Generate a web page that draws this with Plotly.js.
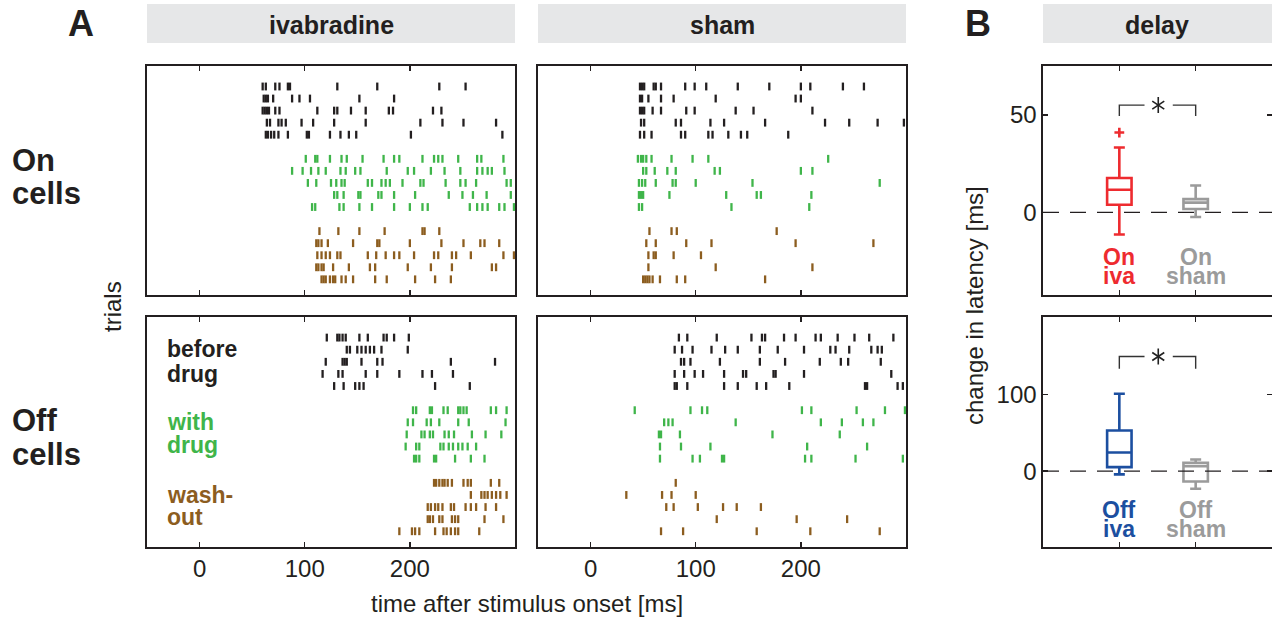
<!DOCTYPE html>
<html><head><meta charset="utf-8">
<script src="https://cdn.plot.ly/plotly-3.0.1.min.js"></script>
<style>html,body{margin:0;padding:0;background:#fff;} #chart{width:1272px;height:619px;}</style>
</head><body><div id="chart"></div>
<script>
// ---------------- DATA (spike times in ms, one sub-array per trial) ----------------
const onIvaBefore = [
 [60,63,72,76,84,86,131,169,228,253],
 [61,63,65,70,88,95,105,152,185],
 [60,62,64,66,72,76,112,128,131,144,158,180,184,222,230],
 [64,67,75,78,82,97,108,128,158,210,231,251,282],
 [63,65,68,71,75,84,102,104,124,134,142,149,201,288]
];
const onIvaDrug = [
 [101,110,112,124,135,140,155,175,185,190,212,223,227,231,246,264,268,289],
 [88,98,106,113,120,134,139,148,153,178,198,204,220,233,248,264,269,274,278,290],
 [103,111,125,130,135,138,160,164,173,177,181,193,210,213,234,248,253,263,292,296],
 [128,131,137,151,153,170,173,185,205,237,250,260,273,296],
 [107,110,133,137,152,164,185,200,212,217,257,264,269,274,285,290,299]
];
const onIvaWash = [
 [114,132,152,176,212,214,228],
 [111,113,116,122,146,169,171,200,230,251,267,271,285],
 [112,116,120,124,131,134,160,168,177,185,190,204,223,227,240,244,258,289,299],
 [111,113,116,118,127,142,162,167,198,220,240,278,282],
 [116,118,120,124,127,129,135,139,146,167,178,205,224,239]
];
const onShamBefore = [
 [47,49,51,60,62,67,90,99,110,140,170,200,209,240,260],
 [47,49,55,67,79,119,195,200],
 [47,49,51,59,67,91,99,138,155,211],
 [48,51,81,86,114,127,166,223,246,273,298],
 [47,51,58,86,90,112,116,131,143,149,188]
];
const onShamDrug = [
 [45,48,50,53,58,77,97,112,226],
 [50,53,61,73,81,118,123,200,211],
 [46,49,52,62,78,81,100,154,275],
 [46,48,50,75,129,158,162,210],
 [46,49,134,208]
];
const onShamWash = [
 [56,77,82,177],
 [53,62,91,115,195,269],
 [55,60,62,79,105],
 [55,119,211],
 [50,52,54,56,59,66,82,90,166]
];
const offIvaBefore = [
 [121,131,133,136,139,152,160,175,178,185,199],
 [140,143,150,154,158,162,166,173,198],
 [120,136,138,140,154,169,174,239,281],
 [117,132,136,158,169,190,212,221,241],
 [128,137,148,152,156,224,257]
];
const offIvaDrug = [
 [203,206,219,221,232,236,246,248,251,254,277,282,292],
 [198,203,216,220,228,246,256,291],
 [197,211,214,219,222,233,237,242,259,272,287],
 [196,206,209,229,232,237,241,246,250,255,263],
 [204,206,209,223,225,243,258,271]
];
const offIvaWash = [
 [223,225,228,231,233,236,240,251,255,258,277,285],
 [258,268,271,274,278,282,286,292],
 [217,220,224,227,231,239,242,253,258,263,272,282],
 [217,219,222,228,231,240,243,246,271,289],
 [190,202,205,209,224,232,235,239,243,246,266]
];
const offShamBefore = [
 [84,92,120,153,163,166,184,195,214,219,235,251,265,288],
 [80,87,97,115,128,140,161,178,203,228,233,246,267,273,277],
 [86,89,95,123,161,185,218,238,245,276],
 [80,89,99,107,127,145,148,174,176,203,286],
 [80,82,92,127,140,158,167,189,261,263,292,297]
];
const offShamDrug = [
 [42,95,106,111,201,210,253,280,299],
 [70,74,78,138,219,239,259,269],
 [65,67,85,173,237],
 [66,86,114,206,263],
 [66,97,104,125,127,204,210,252,297]
];
const offShamWash = [
 [81],
 [34,68,77,100],
 [72,79,102,126,139,162],
 [120,196,244],
 [67,88,158,209,275]
];

// trial row numbers for each condition
const rowsBefore = [1,2,3,4,5];
const rowsDrug = [7,8,9,10,11];
const rowsWash = [13,14,15,16,17];

// box plot statistics (change in latency, ms)
const boxPos = [1, 2];
const onLower  = [-11.4, -2.4];
const onQ1     = [3.9, 1.7];
const onMedian = [11.6, 5.0];
const onQ3     = [17.6, 6.8];
const onUpper  = [33.3, 13.8];
const onOutlier = [41];
const offLower  = [-4.3, -23];
const offQ1     = [5.2, -13.5];
const offMedian = [24.3, 6.5];
const offQ3     = [53, 10.9];
const offUpper  = [100.9, 15.2];
const onSigY  = [49.5, 55.1];
const offSigY = [133.4, 149.5];

const xTicks = [0, 100, 200];
const onYTicks = [0, 50];
const offYTicks = [0, 100];

// ---------------- STYLE ----------------
const FONT = 'Liberation Sans, Arial, Helvetica, sans-serif';
const INK = '#231f20';
const C_BEFORE = '#231f20', C_DRUG = '#3fb54a', C_WASH = '#8c5d1f';
const C_RED = '#ee2b2f', C_GRAY = '#9b9b9b', C_BLUE = '#1c4fa0';
const W = 1272, H = 619;
const fx = p => p / W, fy = p => 1 - p / H;

function raster(data, rows, color, xa, ya) {
  const xs = [], ys = [];
  data.forEach((trial, i) => trial.forEach(t => { xs.push(t); ys.push(rows[i]); }));
  return {type:'scatter', mode:'markers', x:xs, y:ys, xaxis:xa, yaxis:ya, hoverinfo:'skip',
    marker:{symbol:'line-ns-open', size:5.6, color:color, line:{color:color, width:2.3}}};
}

const traces = [
  raster(onIvaBefore, rowsBefore, C_BEFORE, 'x', 'y'),
  raster(onIvaDrug, rowsDrug, C_DRUG, 'x', 'y'),
  raster(onIvaWash, rowsWash, C_WASH, 'x', 'y'),
  raster(onShamBefore, rowsBefore, C_BEFORE, 'x2', 'y2'),
  raster(onShamDrug, rowsDrug, C_DRUG, 'x2', 'y2'),
  raster(onShamWash, rowsWash, C_WASH, 'x2', 'y2'),
  raster(offIvaBefore, rowsBefore, C_BEFORE, 'x3', 'y3'),
  raster(offIvaDrug, rowsDrug, C_DRUG, 'x3', 'y3'),
  raster(offIvaWash, rowsWash, C_WASH, 'x3', 'y3'),
  raster(offShamBefore, rowsBefore, C_BEFORE, 'x4', 'y4'),
  raster(offShamDrug, rowsDrug, C_DRUG, 'x4', 'y4'),
  raster(offShamWash, rowsWash, C_WASH, 'x4', 'y4'),
];

function zeroLine(xa, ya) {
  return {type:'scatter', mode:'lines', x:[0,3], y:[0,0], xaxis:xa, yaxis:ya, hoverinfo:'skip',
    line:{color:INK, width:1.3, dash:'16px,11px'}};
}
function box(i, lower, q1, med, q3, upper, color, xa, ya) {
  return {type:'box', x:[boxPos[i]], q1:[q1[i]], median:[med[i]], q3:[q3[i]],
    lowerfence:[lower[i]], upperfence:[upper[i]], xaxis:xa, yaxis:ya, boxpoints:false,
    width:0.32, whiskerwidth:0.45, fillcolor:'rgba(0,0,0,0)', line:{color:color, width:2.6}, hoverinfo:'skip'};
}
function bracket(sig, xa, ya) {
  return [
    {type:'scatter', mode:'lines', x:[boxPos[0], boxPos[0], 1.33], y:[sig[0], sig[1], sig[1]], xaxis:xa, yaxis:ya,
     line:{color:'#333', width:1.4}, hoverinfo:'skip'},
    {type:'scatter', mode:'lines', x:[1.70, boxPos[1], boxPos[1]], y:[sig[1], sig[1], sig[0]], xaxis:xa, yaxis:ya,
     line:{color:'#333', width:1.4}, hoverinfo:'skip'},
    {type:'scatter', mode:'markers', x:[1.51, 1.51], y:[sig[1], sig[1]], xaxis:xa, yaxis:ya, hoverinfo:'skip',
     marker:{symbol:['y-up-open','y-down-open'], size:10, color:'#222', line:{color:'#222', width:1.6}}}
  ];
}
traces.push(zeroLine('x5','y5'), zeroLine('x6','y6'));
traces.push(box(0, onLower, onQ1, onMedian, onQ3, onUpper, C_RED, 'x5', 'y5'));
traces.push(box(1, onLower, onQ1, onMedian, onQ3, onUpper, C_GRAY, 'x5', 'y5'));
traces.push({type:'scatter', mode:'markers', x:[boxPos[0]], y:onOutlier, xaxis:'x5', yaxis:'y5', hoverinfo:'skip',
  marker:{symbol:'cross-thin-open', size:7, color:C_RED, line:{color:C_RED, width:2.6}}});
traces.push(box(0, offLower, offQ1, offMedian, offQ3, offUpper, C_BLUE, 'x6', 'y6'));
traces.push(box(1, offLower, offQ1, offMedian, offQ3, offUpper, C_GRAY, 'x6', 'y6'));
traces.push(...bracket(onSigY, 'x5', 'y5'), ...bracket(offSigY, 'x6', 'y6'));

const frame = {showline:true, linecolor:INK, linewidth:1.6, mirror:'ticks', showgrid:false, zeroline:false,
  ticks:'inside', ticklen:5, tickwidth:1.3, tickcolor:INK, tickfont:{family:FONT, size:24, color:INK}, fixedrange:true};
const rasterX = Object.assign({}, frame, {range:[-50,300], tickvals:xTicks, ticktext:xTicks.map(String)});
const rasterY = {range:[18.3,-0.7], showline:true, linecolor:INK, linewidth:1.6, mirror:true, ticks:'',
  showticklabels:false, showgrid:false, zeroline:false, fixedrange:true};
const dTop = [fy(295), fy(66)], dBot = [fy(547), fy(317)];
const dL = [fx(147), fx(515)], dR = [fx(538), fx(906)], dB = [fx(1043), 1];

const layout = {
  width:W, height:H, margin:{l:0,r:0,t:0,b:0}, showlegend:false,
  paper_bgcolor:'#fff', plot_bgcolor:'#fff', font:{family:FONT, color:INK},
  xaxis: Object.assign({}, rasterX, {domain:dL, anchor:'y', showticklabels:false}),
  yaxis: Object.assign({}, rasterY, {domain:dTop, anchor:'x'}),
  xaxis2: Object.assign({}, rasterX, {domain:dR, anchor:'y2', showticklabels:false}),
  yaxis2: Object.assign({}, rasterY, {domain:dTop, anchor:'x2'}),
  xaxis3: Object.assign({}, rasterX, {domain:dL, anchor:'y3', showticklabels:true}),
  yaxis3: Object.assign({}, rasterY, {domain:dBot, anchor:'x3'}),
  xaxis4: Object.assign({}, rasterX, {domain:dR, anchor:'y4', showticklabels:true}),
  yaxis4: Object.assign({}, rasterY, {domain:dBot, anchor:'x4'}),
  xaxis5: Object.assign({}, frame, {domain:dB, anchor:'y5', range:[0,3], tickvals:boxPos, showticklabels:false}),
  yaxis5: Object.assign({}, frame, {domain:dTop, anchor:'x5', range:[-42.5,75.2], tickvals:onYTicks, ticktext:onYTicks.map(String)}),
  xaxis6: Object.assign({}, frame, {domain:dB, anchor:'y6', range:[0,3], tickvals:boxPos, showticklabels:false}),
  yaxis6: Object.assign({}, frame, {domain:dBot, anchor:'x6', range:[-99,201], tickvals:offYTicks, ticktext:offYTicks.map(String)}),
  shapes: [
    {type:'rect', xref:'paper', yref:'paper', x0:fx(147), x1:fx(515), y0:fy(43), y1:fy(4), fillcolor:'#e6e7e8', line:{width:0}, layer:'below'},
    {type:'rect', xref:'paper', yref:'paper', x0:fx(538), x1:fx(906), y0:fy(43), y1:fy(4), fillcolor:'#e6e7e8', line:{width:0}, layer:'below'},
    {type:'rect', xref:'paper', yref:'paper', x0:fx(1043), x1:1, y0:fy(43), y1:fy(4), fillcolor:'#e6e7e8', line:{width:0}, layer:'below'}
  ],
  annotations: []
};

function ann(text, x, y, size, color, opts) {
  return Object.assign({text:text, x:x, y:y, xref:'paper', yref:'paper', showarrow:false,
    xanchor:'left', yanchor:'middle', borderpad:0, borderwidth:0,
    font:{family:FONT, size:size, color:color}}, opts || {});
}
const A = layout.annotations;
A.push(ann('<b>A</b>', fx(68), fy(24), 36, INK));
A.push(ann('<b>B</b>', fx(965), fy(24), 36, INK));
A.push(ann('<b>ivabradine</b>', fx(331), fy(25), 25, INK, {xanchor:'center'}));
A.push(ann('<b>sham</b>', fx(722), fy(25), 25, INK, {xanchor:'center'}));
A.push(ann('<b>delay</b>', fx(1157), fy(25), 25, INK, {xanchor:'center'}));
A.push(ann('<b>On</b>', fx(12), fy(160.5), 31, INK));
A.push(ann('<b>cells</b>', fx(12), fy(194), 31, INK));
A.push(ann('<b>Off</b>', fx(12), fy(420.5), 31, INK));
A.push(ann('<b>cells</b>', fx(12), fy(454), 31, INK));
A.push(ann('<b>before</b>', fx(167), fy(349), 23, INK));
A.push(ann('<b>drug</b>', fx(167), fy(374), 23, INK));
A.push(ann('<b>with</b>', fx(167), fy(422), 23, C_DRUG));
A.push(ann('<b>drug</b>', fx(167), fy(444.5), 23, C_DRUG));
A.push(ann('<b>wash-</b>', fx(167), fy(495), 23, C_WASH));
A.push(ann('<b>out</b>', fx(167), fy(517), 23, C_WASH));
A.push(ann('trials', fx(112), fy(306), 24, INK, {xanchor:'center', textangle:-90}));
A.push(ann('change in latency [ms]', fx(974), fy(306), 24, INK, {xanchor:'center', textangle:-90}));
A.push(ann('time after stimulus onset [ms]', fx(527), fy(603.5), 24, INK, {xanchor:'center'}));
function boxLab(text, xi, py, color, xa) {
  return {text:'<b>'+text+'</b>', x:boxPos[xi], y:fy(py), xref:xa, yref:'paper', showarrow:false,
    xanchor:'center', yanchor:'middle', borderpad:0, font:{family:FONT, size:23, color:color}};
}
A.push(boxLab('On', 0, 257, C_RED, 'x5'), boxLab('iva', 0, 276, C_RED, 'x5'));
A.push(boxLab('On', 1, 257, C_GRAY, 'x5'), boxLab('sham', 1, 276, C_GRAY, 'x5'));
A.push(boxLab('Off', 0, 509.5, C_BLUE, 'x6'), boxLab('iva', 0, 529, C_BLUE, 'x6'));
A.push(boxLab('Off', 1, 509.5, C_GRAY, 'x6'), boxLab('sham', 1, 529, C_GRAY, 'x6'));

Plotly.newPlot('chart', traces, layout, {staticPlot:true, displayModeBar:false});
</script>
</body></html>
